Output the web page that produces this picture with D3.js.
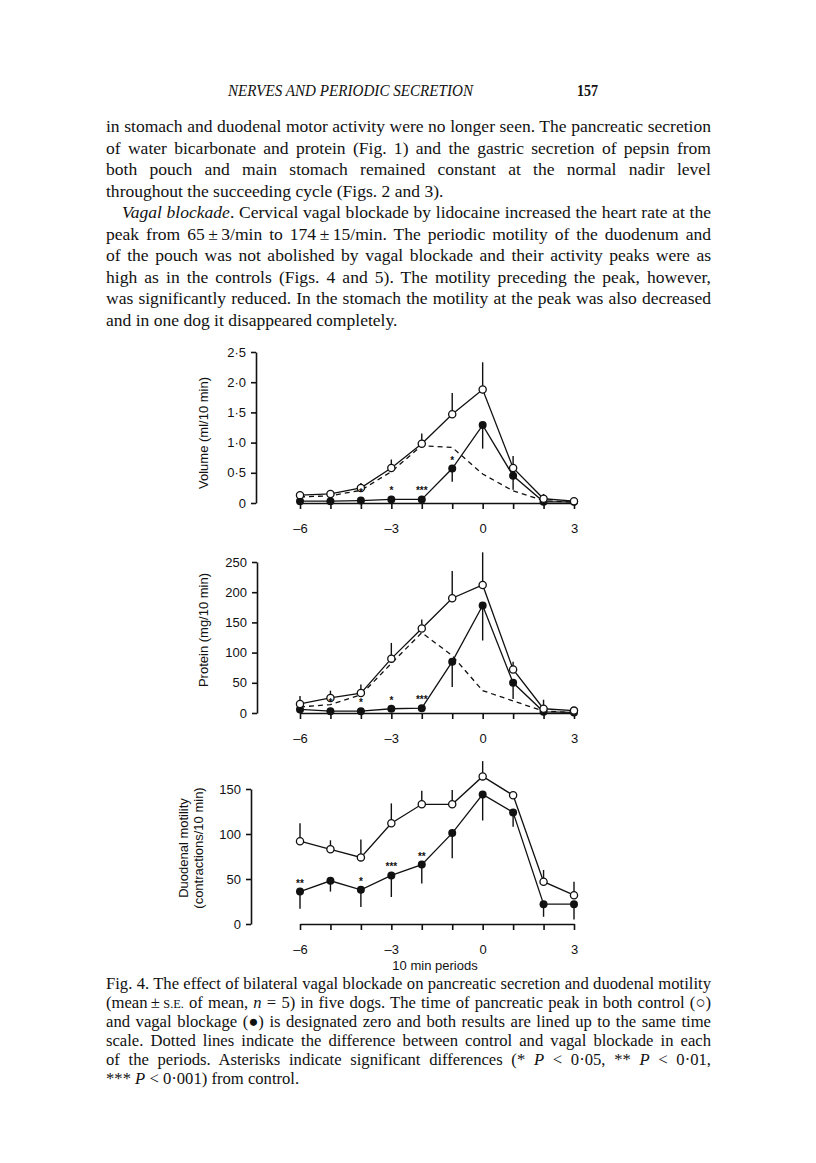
<!DOCTYPE html>
<html>
<head>
<meta charset="utf-8">
<script src="https://cdn.jsdelivr.net/npm/d3@7"></script>
<style>
  html, body { margin: 0; padding: 0; background: #fff; }
  svg { display: block; }
  .serif { font-family: "Liberation Serif", "DejaVu Serif", serif; fill: #111; }
  .sans { font-family: "Liberation Sans", Arial, "DejaVu Sans", sans-serif; fill: #111; }
</style>
</head>
<body>
<svg id="page" width="816" height="1163"></svg>
<script>
// ---------------- DATA ----------------
const periods = [-6, -5, -4, -3, -2, -1, 0, 1, 2, 3];
const xTickLabels = [-6, -3, 0, 3];

// Panel 1: Volume (ml/10 min)
const volTicks = [0, 0.5, 1.0, 1.5, 2.0, 2.5];
const volControl   = [0.13, 0.15, 0.25, 0.58, 0.98, 1.47, 1.88, 0.58, 0.07, 0.03];
const volControlSE = [0.06, 0.05, 0.08, 0.14, 0.17, 0.35, 0.45, 0.20, 0.08, 0.02];
const volVagal     = [0.03, 0.03, 0.04, 0.06, 0.06, 0.57, 1.29, 0.45, 0.02, 0.02];
const volVagalSE   = [0.03, 0.03, 0.03, 0.02, 0.02, 0.22, 0.39, 0.23, 0.02, 0.01];
const volDiff      = [0.10, 0.12, 0.21, 0.52, 0.95, 0.92, 0.48, 0.20, 0.04, 0.01];
const volStars     = ["", "", "*", "*", "***", "*", "", "", "", ""];

// Panel 2: Protein (mg/10 min)
const protTicks = [0, 50, 100, 150, 200, 250];
const protControl   = [15, 25, 33, 90, 140, 190, 212, 72, 7, 4];
const protControlSE = [13, 12, 14, 26, 15, 45, 54, 13, 15, 3];
const protVagal     = [6, 3, 3, 7, 8, 85, 178, 50, 2, 1];
const protVagalSE   = [3, 2, 2, 2, 2, 42, 58, 27, 2, 1];
const protDiff      = [10, 14, 30, 82, 133, 95, 37, 20, 3, 1];
const protStars     = ["", "*", "*", "*", "***", "", "", "", "", ""];

// Panel 3: Duodenal motility (contractions/10 min)
const motTicks = [0, 50, 100, 150];
const motControl   = [92, 83, 74, 112, 133, 133, 164, 143, 47, 32];
const motControlSE = [20, 10, 20, 22, 15, 16, 17, 3, 13, 15];
const motVagal     = [36, 48, 38, 54, 66, 101, 144, 124, 22, 22];
const motVagalSE   = [19, 12, 19, 24, 21, 28, 29, 16, 14, 17];
const motStars     = ["**", "", "*", "***", "**", "", "", "", "", ""];

// Text
const headerText = "NERVES AND PERIODIC SECRETION";
const pageNumber = "157";
const bodyLines = [
  [{t: "in stomach and duodenal motor activity were no longer seen. The pancreatic secretion"}],
  [{t: "of water bicarbonate and protein (Fig. 1) and the gastric secretion of pepsin from"}],
  [{t: "both pouch and main stomach remained constant at the normal nadir level"}],
  [{t: "throughout the succeeding cycle (Figs. 2 and 3)."}],
  [{t: "Vagal blockade", i: true}, {t: ". Cervical vagal blockade by lidocaine increased the heart rate at the"}],
  [{t: "peak from 65\u2009\u00B1\u20093/min to 174\u2009\u00B1\u200915/min. The periodic motility of the duodenum and"}],
  [{t: "of the pouch was not abolished by vagal blockade and their activity peaks were as"}],
  [{t: "high as in the controls (Figs. 4 and 5). The motility preceding the peak, however,"}],
  [{t: "was significantly reduced. In the stomach the motility at the peak was also decreased"}],
  [{t: "and in one dog it disappeared completely."}]
];
const captionLines = [
  [{t: "Fig. 4. The effect of bilateral vagal blockade on pancreatic secretion and duodenal motility"}],
  [{t: "(mean\u2009\u00B1\u2009"}, {t: "S.E.", s: true}, {t: " of mean, "}, {t: "n", i: true}, {t: " = 5) in five dogs. The time of pancreatic peak in both control (\u25CB)"}],
  [{t: "and vagal blockage (\u25CF) is designated zero and both results are lined up to the same time"}],
  [{t: "scale. Dotted lines indicate the difference between control and vagal blockade in each"}],
  [{t: "of the periods. Asterisks indicate significant differences (* "}, {t: "P", i: true}, {t: " < 0\u00B705, ** "}, {t: "P", i: true}, {t: " < 0\u00B701,"}],
  [{t: "*** "}, {t: "P", i: true}, {t: " < 0\u00B7001) from control."}]
];

// ---------------- DRAW ----------------
const svg = d3.select("#page");
svg.append("rect").attr("width", 816).attr("height", 1163).attr("fill", "#fff");

// header
svg.append("text").attr("class", "serif")
  .attr("x", 228).attr("y", 96)
  .attr("font-size", 17).attr("font-style", "italic")
  .attr("textLength", 245).attr("lengthAdjust", "spacingAndGlyphs")
  .text(headerText);
svg.append("text").attr("class", "serif")
  .attr("x", 577).attr("y", 96)
  .attr("font-size", 17).attr("font-weight", "bold")
  .attr("textLength", 21).attr("lengthAdjust", "spacingAndGlyphs")
  .text(pageNumber);

function makeText(parts, x, y, fs) {
  const t = svg.append("text").attr("class", "serif")
    .attr("x", x).attr("y", y).attr("font-size", fs);
  parts.forEach(p => {
    const ts = t.append("tspan").text(p.t);
    if (p.i) ts.attr("font-style", "italic");
    if (p.s) ts.attr("font-size", fs * 0.74);
  });
  return t;
}
function measure(parts, fs) {
  const t = makeText(parts, 0, -100, fs);
  const w = t.node().getComputedTextLength();
  t.remove();
  return w;
}
// font size at which the (tightly set) key line fills its measure
function fitFs(parts, target, fs0) {
  return fs0 * target / measure(parts, fs0) * 0.997;
}

function writeLines(lines, opts) {
  lines.forEach((parts, k) => {
    const x0 = (opts.indent && opts.indent[k]) ? opts.x0 + opts.indent[k] : opts.x0;
    const t = makeText(parts, x0, opts.y0 + k * opts.dy, opts.fs);
    if (opts.ragged.includes(k)) return;
    const target = opts.x1 - x0;
    const natural = t.node().getComputedTextLength();
    const spaces = parts.map(p => p.t).join("").split(" ").length - 1;
    let ws = spaces > 0 ? (target - natural) / spaces : 0;
    if (ws < -1) {
      // too long: tighten spaces a little and squeeze the rest
      t.attr("word-spacing", -1)
       .attr("textLength", target).attr("lengthAdjust", "spacingAndGlyphs");
    } else {
      t.attr("word-spacing", ws);
    }
  });
}

const bodyOpts = { x0: 106, x1: 711, y0: 132, dy: 21.55, indent: {4: 16}, ragged: [3, 9] };
bodyOpts.fs = Math.min(fitFs(bodyLines[0], 605, 16), fitFs(bodyLines[8], 605, 16));
writeLines(bodyLines, bodyOpts);

const capOpts = { x0: 106, x1: 711, y0: 988.5, dy: 19, ragged: [5] };
capOpts.fs = fitFs(captionLines[0], 605, 14);
writeLines(captionLines, capOpts);

// ---- panels ----
const x = d3.scaleLinear().domain([-6, 3]).range([300, 574]);

function fmtTick(v, dec) {
  if (v === 0) return "0";
  return dec ? v.toFixed(1).replace(".", "\u00B7") : String(v);
}

function drawPanel(p) {
  const g = svg.append("g");
  const y = d3.scaleLinear().domain([0, p.ticks[p.ticks.length - 1]]).range(p.yRange);

  // y axis
  const ya = g.append("g").attr("transform", `translate(${p.yAxisX},0)`)
    .call(d3.axisLeft(y).tickValues(p.ticks).tickSize(5).tickSizeOuter(0).tickPadding(5)
      .tickFormat(v => fmtTick(v, p.dec)));
  // x axis
  const xa = g.append("g").attr("transform", `translate(0,${y(0)})`)
    .call(d3.axisBottom(x).tickValues(periods).tickSize(6).tickSizeOuter(0).tickPadding(15)
      .tickFormat(v => xTickLabels.includes(v) ? (v < 0 ? "\u2013" + Math.abs(v) : String(v)) : ""));
  [ya, xa].forEach(a => {
    a.selectAll("path, line").attr("stroke", "#111").attr("stroke-width", 1.6);
    a.selectAll("text").attr("class", "sans").attr("font-size", 13).attr("fill", "#111");
  });

  // y axis title
  p.title.forEach((line, k) => {
    g.append("text").attr("class", "sans")
      .attr("transform", `translate(${p.titleX[k]},${p.titleY}) rotate(-90)`)
      .attr("text-anchor", "middle").attr("font-size", 13)
      .text(line);
  });

  const line = d3.line().x((d, i) => x(periods[i])).y(d => y(d));

  // dashed difference
  if (p.diff) {
    g.append("path").datum(p.diff).attr("d", line)
      .attr("fill", "none").attr("stroke", "#111").attr("stroke-width", 1.3)
      .attr("stroke-dasharray", "5,4");
  }
  // solid lines
  [p.control, p.vagal].forEach(s => {
    g.append("path").datum(s).attr("d", line)
      .attr("fill", "none").attr("stroke", "#111").attr("stroke-width", 1.3);
  });
  // error bars: control up, vagal down
  g.selectAll(".ec").data(p.control).join("line")
    .attr("x1", (d, i) => x(periods[i])).attr("x2", (d, i) => x(periods[i]))
    .attr("y1", d => y(d)).attr("y2", (d, i) => y(d + p.controlSE[i]))
    .attr("stroke", "#111").attr("stroke-width", 1.4);
  g.selectAll(".ev").data(p.vagal).join("line")
    .attr("x1", (d, i) => x(periods[i])).attr("x2", (d, i) => x(periods[i]))
    .attr("y1", d => y(d)).attr("y2", (d, i) => y(Math.max(0, d - p.vagalSE[i])))
    .attr("stroke", "#111").attr("stroke-width", 1.4);
  // vagal points (filled)
  g.selectAll(".pv").data(p.vagal).join("circle")
    .attr("cx", (d, i) => x(periods[i])).attr("cy", d => y(d)).attr("r", 4)
    .attr("fill", "#111");
  // control points (open)
  g.selectAll(".pc").data(p.control).join("circle")
    .attr("cx", (d, i) => x(periods[i])).attr("cy", d => y(d)).attr("r", 3.6)
    .attr("fill", "#fff").attr("stroke", "#111").attr("stroke-width", 1.3);
  // significance asterisks
  g.selectAll(".st").data(p.stars).join("text")
    .attr("class", "sans")
    .attr("x", (d, i) => x(periods[i])).attr("y", (d, i) => y(p.vagal[i]) - 5)
    .attr("text-anchor", "middle").attr("font-size", 10).attr("font-weight", "bold")
    .text(d => d);
}

drawPanel({
  ticks: volTicks, dec: true, yRange: [503, 352], yAxisX: 256,
  control: volControl, controlSE: volControlSE, vagal: volVagal, vagalSE: volVagalSE,
  diff: volDiff, stars: volStars,
  title: ["Volume (ml/10 min)"], titleX: [208], titleY: 433
});
drawPanel({
  ticks: protTicks, dec: false, yRange: [713, 562], yAxisX: 257,
  control: protControl, controlSE: protControlSE, vagal: protVagal, vagalSE: protVagalSE,
  diff: protDiff, stars: protStars,
  title: ["Protein (mg/10 min)"], titleX: [208], titleY: 630
});
drawPanel({
  ticks: motTicks, dec: false, yRange: [924, 789], yAxisX: 251,
  control: motControl, controlSE: motControlSE, vagal: motVagal, vagalSE: motVagalSE,
  diff: null, stars: motStars,
  title: ["Duodenal motility", "(contractions/10 min)"], titleX: [188, 203], titleY: 848
});

svg.append("text").attr("class", "sans")
  .attr("x", 435).attr("y", 970).attr("text-anchor", "middle").attr("font-size", 13)
  .text("10 min periods");
</script>
</body>
</html>
